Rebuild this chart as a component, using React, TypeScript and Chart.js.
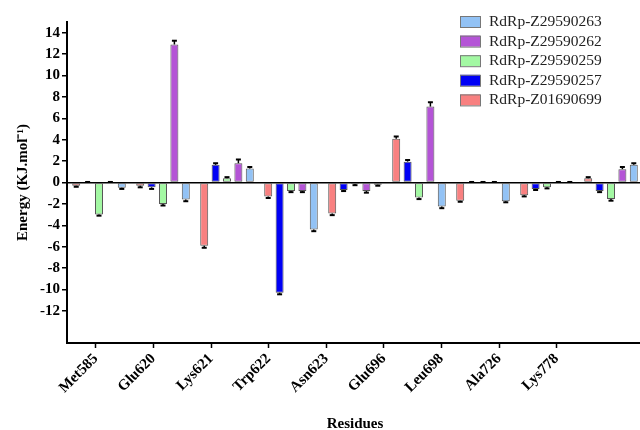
import React, { useEffect, useRef } from "react";
import { Chart, registerables } from "chart.js";

Chart.register(...registerables);

const residues = ["Met585", "Glu620", "Lys621", "Trp622", "Asn623", "Glu696", "Leu698", "Ala726", "Lys778"];
const tickLabels = [...residues, ""];
const yTicks = [-12, -10, -8, -6, -4, -2, 0, 2, 4, 6, 8, 10, 12, 14];

const z01690699 = [-0.3, -0.3, -5.9, -1.3, -2.9, 4.1, -1.7, -1.2, 0.4];
const z29590257 = [0, -0.45, 1.65, -10.3, -0.7, 1.95, 0, -0.6, -0.8];
const z29590259 = [-3.0, -2.0, 0.4, -0.8, -0.15, -1.4, 0, -0.45, -1.55];
const z29590262 = [0, 12.9, 1.8, -0.8, -0.8, 7.1, 0, 0, 1.25];
const z29590263 = [-0.5, -1.6, 1.3, -4.4, -0.2, -2.25, -1.75, 0, 1.65];

const err01690699 = [0.1, 0.15, 0.2, 0.15, 0.15, 0.2, 0.1, 0.1, 0.1];
const err29590257 = [0.05, 0.15, 0.15, 0.15, 0.1, 0.15, 0.05, 0.1, 0.1];
const err29590259 = [0.1, 0.15, 0.1, 0.1, 0.1, 0.15, 0.05, 0.1, 0.15];
const err29590262 = [0.05, 0.35, 0.35, 0.1, 0.15, 0.4, 0.05, 0.05, 0.2];
const err29590263 = [0.1, 0.15, 0.15, 0.15, 0.1, 0.15, 0.1, 0.05, 0.15];

const serif = "'Liberation Serif', 'Times New Roman', serif";

const errorBarPlugin = {
  id: "errorBars",
  afterDatasetsDraw(chart: any) {
    const ctx = chart.ctx;
    const yScale = chart.scales.y;
    chart.data.datasets.forEach((ds: any, di: number) => {
      const meta = chart.getDatasetMeta(di);
      meta.data.forEach((bar: any, i: number) => {
        const v = ds.data[i];
        const e = ds.errors[i];
        const dir = v < 0 ? -1 : 1;
        const y0 = yScale.getPixelForValue(v);
        const y1 = yScale.getPixelForValue(v + dir * e);
        ctx.save();
        ctx.strokeStyle = "#000";
        ctx.lineWidth = 1.5;
        ctx.beginPath();
        ctx.moveTo(bar.x, y0);
        ctx.lineTo(bar.x, y1);
        ctx.stroke();
        ctx.lineWidth = 2;
        ctx.beginPath();
        ctx.moveTo(bar.x - 2.5, y1);
        ctx.lineTo(bar.x + 2.5, y1);
        ctx.stroke();
        ctx.restore();
      });
    });
  },
};

const legendPlugin = {
  id: "customLegend",
  afterDraw(chart: any) {
    const ctx = chart.ctx;
    const items = [...chart.data.datasets].reverse();
    ctx.save();
    ctx.font = `15.5px ${serif}`;
    ctx.textBaseline = "middle";
    ctx.textAlign = "left";
    items.forEach((ds: any, i: number) => {
      const top = 16 + i * 19.6;
      ctx.fillStyle = ds.backgroundColor;
      ctx.fillRect(460, top, 20, 11);
      ctx.strokeStyle = "#777";
      ctx.lineWidth = 1;
      ctx.strokeRect(460.5, top + 0.5, 20, 11);
      ctx.fillStyle = "#222";
      ctx.fillText(ds.label, 489, top + 6);
    });
    ctx.restore();
  },
};

export default function App() {
  const ref = useRef<HTMLCanvasElement>(null);
  useEffect(() => {
    if (!ref.current) return;
    const mk = (label: string, data: number[], errors: number[], color: string) => ({
      label,
      data,
      errors,
      backgroundColor: color,
      borderColor: "#555",
      borderWidth: 1,
      borderSkipped: false,
      xAxisID: "x",
      yAxisID: "y",
    });
    const chart = new Chart(ref.current, {
      type: "bar",
      data: {
        labels: residues,
        datasets: [
          mk("RdRp-Z01690699", z01690699, err01690699, "#F88080"),
          mk("RdRp-Z29590257", z29590257, err29590257, "#0000F5"),
          mk("RdRp-Z29590259", z29590259, err29590259, "#A3F8A3"),
          mk("RdRp-Z29590262", z29590262, err29590262, "#B454D6"),
          mk("RdRp-Z29590263", z29590263, err29590263, "#92C2F5"),
        ] as any,
      },
      options: {
        animation: false,
        responsive: false,
        devicePixelRatio: 1,
        layout: { padding: { top: 22, right: 1, left: 0, bottom: 0 } },
        plugins: { legend: { display: false }, tooltip: { enabled: false } },
        datasets: { bar: { categoryPercentage: 0.89, barPercentage: 0.7 } },
        scales: {
          x: { type: "category", display: false, offset: true },
          x2: {
            type: "category",
            position: "bottom",
            labels: tickLabels,
            offset: true,
            border: { display: true, color: "#000", width: 2 },
            grid: {
              offset: false,
              drawOnChartArea: false,
              drawTicks: true,
              tickLength: 5,
              tickWidth: 1.5,
              tickColor: (c: any) => (c.index === tickLabels.length - 1 ? "rgba(0,0,0,0)" : "#000"),
            },
            ticks: {
              autoSkip: false,
              maxRotation: 45,
              minRotation: 45,
              padding: 2,
              color: "#000",
              font: { family: serif, size: 15, weight: "bold" },
            },
            title: {
              display: true,
              text: "Residues",
              color: "#000",
              font: { family: serif, size: 15, weight: "bold", lineHeight: 0.8 },
              padding: { top: 0, bottom: 0 },
            },
            afterFit: (s: any) => {
              s.height = 87;
            },
          },
          y: {
            min: -15,
            max: 15,
            afterBuildTicks: (s: any) => {
              s.ticks = yTicks.map((v) => ({ value: v }));
            },
            border: { display: true, color: "#000", width: 2 },
            grid: {
              color: (c: any) => (c.tick && c.tick.value === 0 ? "#000" : "rgba(0,0,0,0)"),
              lineWidth: 1.5,
              tickColor: "#000",
              tickLength: 5,
              tickWidth: 1.5,
            },
            ticks: {
              color: "#000",
              padding: 2,
              font: { family: serif, size: 15, weight: "bold" },
            },
            title: {
              display: true,
              text: "Energy (KJ.mol⁻¹)",
              color: "#000",
              font: { family: serif, size: 15, weight: "bold" },
              padding: { top: 14, bottom: 0 },
            },
            afterFit: (s: any) => {
              s.width = 67;
            },
          },
        },
      } as any,
      plugins: [errorBarPlugin, legendPlugin],
    });
    return () => chart.destroy();
  }, []);
  return (
    <div style={{ position: "fixed", left: 0, top: 0, width: 640, height: 430, overflow: "hidden", background: "#fff" }}>
      <canvas ref={ref} width={644} height={430} style={{ display: "block" }} />
    </div>
  );
}
